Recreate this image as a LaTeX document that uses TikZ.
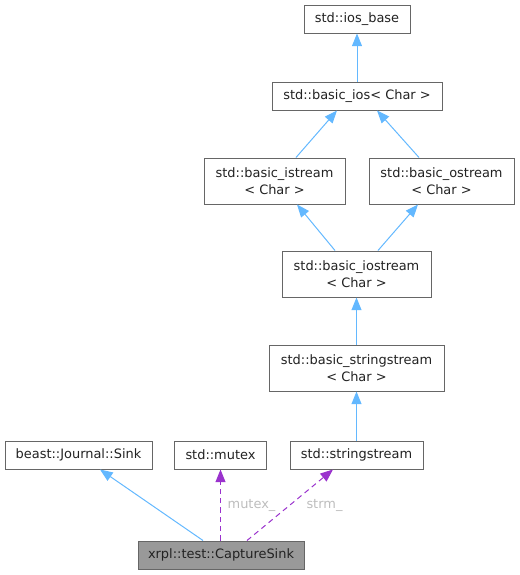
\documentclass[tikz,border=0pt]{standalone}
\usepackage{fontspec}
\setmainfont{DejaVu Sans}
\usetikzlibrary{arrows.meta,calc}
\definecolor{edgeblue}{HTML}{63B8FF}
\definecolor{edgepurple}{HTML}{9A32CD}
\definecolor{boxborder}{HTML}{666666}
\definecolor{labelgray}{HTML}{BDBDBD}
\definecolor{mainfill}{HTML}{999999}
\definecolor{txt}{HTML}{222222}
\tikzset{
  cls/.style 2 args={draw=boxborder, line width=0.75pt, fill=white, inner sep=0pt,
    align=center, minimum width=#1*0.75pt, minimum height=#2*0.75pt, text=txt,
    font=\fontsize{9.7}{12.75}\selectfont},
  inh/.style={draw=edgeblue, line width=0.75pt, -{Triangle[length=9.5pt,width=7.5pt]}},
  use/.style={draw=edgepurple, line width=0.75pt, dash pattern=on 4pt off 3pt,
    -{Triangle[length=9.5pt,width=7.5pt]}},
  lbl/.style={text=labelgray, font=\fontsize{9.7}{12}\selectfont, inner sep=0pt},
}
\begin{document}
\begin{tikzpicture}[x=0.75pt,y=-0.75pt]
\useasboundingbox (0,0) rectangle (519,575);
\node[cls={106}{28}] (iosbase) at (357,19) {std::ios\_base};
\node[cls={170}{28}] (basicios) at (357,96) {std::basic\_ios< Char >};
\node[cls={141}{46}] (istream) at (274.5,181) {std::basic\_istream\\< Char >};
\node[cls={145}{46}] (ostream) at (441.5,181) {std::basic\_ostream\\< Char >};
\node[cls={149}{46}] (iostream) at (356.5,274) {std::basic\_iostream\\< Char >};
\node[cls={175}{46}] (bss) at (356.5,368) {std::basic\_stringstream\\< Char >};
\node[cls={133}{28}] (ss) at (356.5,455) {std::stringstream};
\node[cls={147}{28}] (sink) at (78.5,455) {beast::Journal::Sink};
\node[cls={92}{28}] (mutex) at (220.5,455) {std::mutex};
\node[cls={166}{28}, fill=mainfill] (cs) at (221,555) {xrpl::test::CaptureSink};

\draw[inh] (basicios.north) -- (iosbase.south);
\draw[inh] ($(istream.north)+(21.5,0)$) -- ($(basicios.south)+(-20,0)$);
\draw[inh] ($(ostream.north)+(-22.5,0)$) -- ($(basicios.south)+(20,0)$);
\draw[inh] ($(iostream.north)+(-21.5,0)$) -- ($(istream.south)+(22.5,0)$);
\draw[inh] ($(iostream.north)+(21.5,0)$) -- ($(ostream.south)+(-23.5,0)$);
\draw[inh] (bss.north) -- (iostream.south);
\draw[inh] (ss.north) -- (bss.south);
\draw[inh] ($(cs.north)+(-18,0)$) -- ($(sink.south)+(21.5,0)$);
\draw[use] ($(cs.north)+(-0.5,0)$) -- node[lbl, right=5pt, pos=0.5] (lm) {mutex\_} (mutex.south);
\draw[use] ($(cs.north)+(26,0)$) -- node[lbl, right=12pt, pos=0.5] (ls) {strm\_} ($(ss.south)+(-23.5,0)$);
\end{tikzpicture}
\end{document}
